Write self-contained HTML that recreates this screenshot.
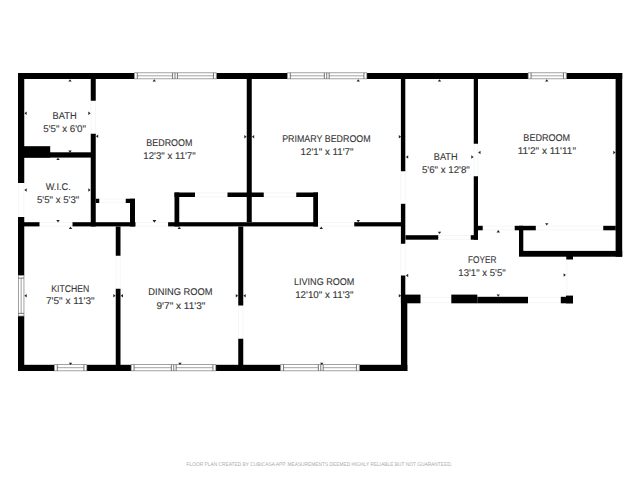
<!DOCTYPE html>
<html><head><meta charset="utf-8"><style>
html,body{margin:0;padding:0;background:#fff;}
svg{display:block;}
text{font-family:"Liberation Sans",sans-serif;text-rendering:geometricPrecision;}
</style></head><body>
<svg width="640" height="480" viewBox="0 0 640 480">
<rect x="0" y="0" width="640" height="480" fill="#fff"/>
<g stroke="#f2f2f2" stroke-width="0.7">
<line x1="18.4" y1="183" x2="18.4" y2="217"/>
<line x1="24.0" y1="183" x2="24.0" y2="217"/>
<line x1="91.0" y1="100.75" x2="91.0" y2="133.75"/>
<line x1="95.5" y1="100.75" x2="95.5" y2="133.75"/>
<line x1="39.5" y1="222.5" x2="72.5" y2="222.5"/>
<line x1="39.5" y1="226.1" x2="72.5" y2="226.1"/>
<line x1="135.5" y1="222.5" x2="168.1" y2="222.5"/>
<line x1="135.5" y1="226.1" x2="168.1" y2="226.1"/>
<line x1="99.25" y1="199.1" x2="125.75" y2="199.1"/>
<line x1="99.25" y1="202.7" x2="125.75" y2="202.7"/>
<line x1="195" y1="192.9" x2="227.5" y2="192.9"/>
<line x1="195" y1="196.7" x2="227.5" y2="196.7"/>
<line x1="263.75" y1="192.9" x2="296.25" y2="192.9"/>
<line x1="263.75" y1="196.7" x2="296.25" y2="196.7"/>
<line x1="318" y1="222.5" x2="354.25" y2="222.5"/>
<line x1="318" y1="226.1" x2="354.25" y2="226.1"/>
<line x1="116.1" y1="255.75" x2="116.1" y2="288.75"/>
<line x1="120.2" y1="255.75" x2="120.2" y2="288.75"/>
<line x1="238.6" y1="305.5" x2="238.6" y2="338.75"/>
<line x1="242.9" y1="305.5" x2="242.9" y2="338.75"/>
<line x1="400.9" y1="171.25" x2="400.9" y2="203.8"/>
<line x1="405.3" y1="171.25" x2="405.3" y2="203.8"/>
<line x1="400.9" y1="243.75" x2="400.9" y2="275.5"/>
<line x1="405.3" y1="243.75" x2="405.3" y2="275.5"/>
<line x1="438.25" y1="235.5" x2="470.75" y2="235.5"/>
<line x1="438.25" y1="239.4" x2="470.75" y2="239.4"/>
<line x1="474.1" y1="143.75" x2="474.1" y2="176.25"/>
<line x1="477.7" y1="143.75" x2="477.7" y2="176.25"/>
<line x1="482.5" y1="226.1" x2="514.5" y2="226.1"/>
<line x1="482.5" y1="229.7" x2="514.5" y2="229.7"/>
<line x1="535.5" y1="226.1" x2="603.25" y2="226.1"/>
<line x1="535.5" y1="229.7" x2="603.25" y2="229.7"/>
<line x1="420.5" y1="297.4" x2="451.25" y2="297.4"/>
<line x1="420.5" y1="302.6" x2="451.25" y2="302.6"/>
<line x1="528" y1="297.4" x2="560.75" y2="297.4"/>
<line x1="528" y1="302.6" x2="560.75" y2="302.6"/>
<line x1="566.75" y1="259.5" x2="566.75" y2="297"/>
</g>
<g fill="#000">
<rect x="18" y="73" width="116.50" height="6.00"/>
<rect x="216.25" y="73" width="71.25" height="6.00"/>
<rect x="366.75" y="73" width="161.50" height="6.00"/>
<rect x="566.25" y="73" width="55.95" height="6.00"/>
<rect x="18" y="73" width="6.25" height="110.00"/>
<rect x="18" y="217" width="6.25" height="58.50"/>
<rect x="18" y="316" width="6.25" height="55.00"/>
<rect x="615.6" y="73" width="6.60" height="183.70"/>
<rect x="18" y="364.8" width="36.50" height="6.20"/>
<rect x="86.75" y="364.8" width="44.50" height="6.20"/>
<rect x="215.75" y="364.8" width="65.00" height="6.20"/>
<rect x="359.25" y="364.8" width="48.05" height="6.20"/>
<rect x="90.75" y="79" width="5.00" height="21.75"/>
<rect x="90.75" y="133.75" width="5.00" height="92.75"/>
<rect x="24" y="152.3" width="67.00" height="5.30"/>
<rect x="24" y="146.2" width="26.20" height="11.40"/>
<rect x="18" y="222.2" width="21.50" height="4.20"/>
<rect x="72.5" y="222.2" width="63.00" height="4.20"/>
<rect x="168.1" y="222.2" width="149.90" height="4.20"/>
<rect x="95.75" y="198.75" width="3.50" height="4.25"/>
<rect x="125.75" y="198.75" width="9.25" height="4.25"/>
<rect x="130" y="198.75" width="5.00" height="27.75"/>
<rect x="115.75" y="226.5" width="4.75" height="29.25"/>
<rect x="115.75" y="288.75" width="4.75" height="76.25"/>
<rect x="246.75" y="79" width="5.00" height="143.20"/>
<rect x="174.5" y="192.5" width="20.50" height="4.50"/>
<rect x="227.5" y="192.5" width="36.25" height="4.50"/>
<rect x="296.25" y="192.5" width="21.75" height="4.50"/>
<rect x="174.5" y="192.5" width="4.75" height="34.00"/>
<rect x="313.25" y="192.5" width="4.75" height="34.00"/>
<rect x="238.25" y="226.5" width="5.00" height="79.00"/>
<rect x="238.25" y="338.75" width="5.00" height="26.25"/>
<rect x="354.25" y="222.2" width="47.00" height="4.20"/>
<rect x="400.9" y="79" width="4.40" height="92.25"/>
<rect x="400.9" y="203.8" width="4.40" height="39.95"/>
<rect x="400.9" y="275.5" width="4.40" height="19.50"/>
<rect x="400.95" y="295" width="6.35" height="76.00"/>
<rect x="405.5" y="235.2" width="32.75" height="4.50"/>
<rect x="470.75" y="235.2" width="7.25" height="4.50"/>
<rect x="473.75" y="79" width="4.25" height="64.75"/>
<rect x="473.75" y="176.25" width="4.25" height="63.45"/>
<rect x="478" y="225.8" width="4.70" height="4.50"/>
<rect x="514.7" y="225.8" width="21.10" height="4.50"/>
<rect x="603.25" y="225.8" width="12.50" height="4.50"/>
<rect x="519" y="225.8" width="4.30" height="29.95"/>
<rect x="519" y="250.9" width="103.20" height="5.80"/>
<rect x="566.25" y="255.75" width="6.75" height="3.75"/>
<rect x="400.9" y="294.6" width="19.60" height="8.70"/>
<rect x="451.3" y="294.6" width="26.00" height="8.70"/>
<rect x="477.3" y="296.8" width="50.70" height="6.50"/>
<rect x="560.8" y="296.8" width="12.20" height="6.50"/>
<rect x="566" y="295.6" width="7.00" height="7.70"/>
</g>
<g>
<rect x="134.5" y="72.8" width="81.75" height="6.00" fill="#fff" stroke="#8a8a8a" stroke-width="0.8"/>
<line x1="137.30" y1="75.80" x2="172.60" y2="75.80" stroke="#8a8a8a" stroke-width="0.8"/>
<line x1="177.40" y1="75.80" x2="213.45" y2="75.80" stroke="#8a8a8a" stroke-width="0.8"/>
<line x1="137.30" y1="72.8" x2="137.30" y2="78.8" stroke="#555" stroke-width="0.8"/>
<line x1="172.60" y1="72.8" x2="172.60" y2="78.8" stroke="#555" stroke-width="0.8"/>
<line x1="177.40" y1="72.8" x2="177.40" y2="78.8" stroke="#555" stroke-width="0.8"/>
<line x1="213.45" y1="72.8" x2="213.45" y2="78.8" stroke="#555" stroke-width="0.8"/>
<line x1="175.00" y1="72.8" x2="175.00" y2="78.8" stroke="#555" stroke-width="0.8"/>
<rect x="287.5" y="72.8" width="79.25" height="6.00" fill="#fff" stroke="#8a8a8a" stroke-width="0.8"/>
<line x1="290.30" y1="75.80" x2="324.35" y2="75.80" stroke="#8a8a8a" stroke-width="0.8"/>
<line x1="329.15" y1="75.80" x2="363.95" y2="75.80" stroke="#8a8a8a" stroke-width="0.8"/>
<line x1="290.30" y1="72.8" x2="290.30" y2="78.8" stroke="#555" stroke-width="0.8"/>
<line x1="324.35" y1="72.8" x2="324.35" y2="78.8" stroke="#555" stroke-width="0.8"/>
<line x1="329.15" y1="72.8" x2="329.15" y2="78.8" stroke="#555" stroke-width="0.8"/>
<line x1="363.95" y1="72.8" x2="363.95" y2="78.8" stroke="#555" stroke-width="0.8"/>
<line x1="326.75" y1="72.8" x2="326.75" y2="78.8" stroke="#555" stroke-width="0.8"/>
<rect x="528.25" y="72.8" width="38.00" height="6.00" fill="#fff" stroke="#8a8a8a" stroke-width="0.8"/>
<line x1="531.05" y1="75.80" x2="563.45" y2="75.80" stroke="#8a8a8a" stroke-width="0.8"/>
<line x1="531.05" y1="72.8" x2="531.05" y2="78.8" stroke="#555" stroke-width="0.8"/>
<line x1="563.45" y1="72.8" x2="563.45" y2="78.8" stroke="#555" stroke-width="0.8"/>
<rect x="54.5" y="364.6" width="32.25" height="6.20" fill="#fff" stroke="#8a8a8a" stroke-width="0.8"/>
<line x1="57.30" y1="367.70" x2="83.95" y2="367.70" stroke="#8a8a8a" stroke-width="0.8"/>
<line x1="57.30" y1="364.6" x2="57.30" y2="370.8" stroke="#555" stroke-width="0.8"/>
<line x1="83.95" y1="364.6" x2="83.95" y2="370.8" stroke="#555" stroke-width="0.8"/>
<rect x="131.25" y="364.6" width="84.50" height="6.20" fill="#fff" stroke="#8a8a8a" stroke-width="0.8"/>
<line x1="134.05" y1="367.70" x2="171.35" y2="367.70" stroke="#8a8a8a" stroke-width="0.8"/>
<line x1="176.15" y1="367.70" x2="212.95" y2="367.70" stroke="#8a8a8a" stroke-width="0.8"/>
<line x1="134.05" y1="364.6" x2="134.05" y2="370.8" stroke="#555" stroke-width="0.8"/>
<line x1="171.35" y1="364.6" x2="171.35" y2="370.8" stroke="#555" stroke-width="0.8"/>
<line x1="176.15" y1="364.6" x2="176.15" y2="370.8" stroke="#555" stroke-width="0.8"/>
<line x1="212.95" y1="364.6" x2="212.95" y2="370.8" stroke="#555" stroke-width="0.8"/>
<line x1="173.75" y1="364.6" x2="173.75" y2="370.8" stroke="#555" stroke-width="0.8"/>
<rect x="280.75" y="364.6" width="78.50" height="6.20" fill="#fff" stroke="#8a8a8a" stroke-width="0.8"/>
<line x1="283.55" y1="367.70" x2="318.35" y2="367.70" stroke="#8a8a8a" stroke-width="0.8"/>
<line x1="323.15" y1="367.70" x2="356.45" y2="367.70" stroke="#8a8a8a" stroke-width="0.8"/>
<line x1="283.55" y1="364.6" x2="283.55" y2="370.8" stroke="#555" stroke-width="0.8"/>
<line x1="318.35" y1="364.6" x2="318.35" y2="370.8" stroke="#555" stroke-width="0.8"/>
<line x1="323.15" y1="364.6" x2="323.15" y2="370.8" stroke="#555" stroke-width="0.8"/>
<line x1="356.45" y1="364.6" x2="356.45" y2="370.8" stroke="#555" stroke-width="0.8"/>
<line x1="320.75" y1="364.6" x2="320.75" y2="370.8" stroke="#555" stroke-width="0.8"/>
<rect x="18.4" y="275.5" width="5.55" height="40.50" fill="#fff" stroke="#8a8a8a" stroke-width="0.8"/>
<line x1="21.17" y1="278.10" x2="21.17" y2="313.40" stroke="#8a8a8a" stroke-width="0.8"/>
<line x1="18.4" y1="278.10" x2="23.95" y2="278.10" stroke="#555" stroke-width="0.8"/>
<line x1="18.4" y1="313.40" x2="23.95" y2="313.40" stroke="#555" stroke-width="0.8"/>
</g>
<g fill="#222">
<polygon points="70.00,79.20 68.30,81.50 71.70,81.50"/>
<polygon points="24.40,113.25 26.70,111.55 26.70,114.95"/>
<polygon points="90.60,113.25 88.30,111.55 88.30,114.95"/>
<polygon points="95.90,136.25 98.20,134.55 98.20,137.95"/>
<polygon points="70.00,152.90 68.30,150.60 71.70,150.60"/>
<polygon points="58.00,157.60 56.30,159.90 59.70,159.90"/>
<polygon points="24.40,190.00 26.70,188.30 26.70,191.70"/>
<polygon points="90.60,190.00 88.30,188.30 88.30,191.70"/>
<polygon points="58.00,222.40 56.30,220.10 59.70,220.10"/>
<polygon points="70.50,226.60 68.80,228.90 72.20,228.90"/>
<polygon points="154.50,222.40 152.80,220.10 156.20,220.10"/>
<polygon points="24.40,295.75 26.70,294.05 26.70,297.45"/>
<polygon points="115.60,295.75 113.30,294.05 113.30,297.45"/>
<polygon points="120.70,295.75 123.00,294.05 123.00,297.45"/>
<polygon points="70.50,365.00 68.80,362.70 72.20,362.70"/>
<polygon points="154.25,79.20 152.55,81.50 155.95,81.50"/>
<polygon points="154.25,222.40 152.55,220.10 155.95,220.10"/>
<polygon points="179.25,226.60 177.55,228.90 180.95,228.90"/>
<polygon points="180.00,365.00 178.30,362.70 181.70,362.70"/>
<polygon points="238.10,295.75 235.80,294.05 235.80,297.45"/>
<polygon points="243.40,295.75 245.70,294.05 245.70,297.45"/>
<polygon points="358.25,79.20 356.55,81.50 359.95,81.50"/>
<polygon points="246.60,136.75 244.30,135.05 244.30,138.45"/>
<polygon points="251.90,136.75 254.20,135.05 254.20,138.45"/>
<polygon points="321.25,226.60 319.55,228.90 322.95,228.90"/>
<polygon points="358.25,222.40 356.55,220.10 359.95,220.10"/>
<polygon points="321.75,365.00 320.05,362.70 323.45,362.70"/>
<polygon points="439.50,79.20 437.80,81.50 441.20,81.50"/>
<polygon points="401.10,136.75 398.80,135.05 398.80,138.45"/>
<polygon points="405.90,157.00 408.20,155.30 408.20,158.70"/>
<polygon points="473.60,157.00 471.30,155.30 471.30,158.70"/>
<polygon points="478.20,152.50 480.50,150.80 480.50,154.20"/>
<polygon points="439.50,234.10 437.80,231.80 441.20,231.80"/>
<polygon points="498.25,230.10 496.55,232.40 499.95,232.40"/>
<polygon points="405.90,275.50 408.20,273.80 408.20,277.20"/>
<polygon points="401.10,295.75 398.80,294.05 398.80,297.45"/>
<polygon points="498.25,296.80 496.55,294.50 499.95,294.50"/>
<polygon points="546.75,79.20 545.05,81.50 548.45,81.50"/>
<polygon points="615.60,152.50 613.30,150.80 613.30,154.20"/>
<polygon points="546.75,225.60 545.05,223.30 548.45,223.30"/>
<polygon points="565.90,275.00 563.60,273.30 563.60,276.70"/>
</g>
<g fill="#383838" stroke="#383838" stroke-width="0.12" font-size="9.8" text-anchor="middle">
<text x="64.62" y="118.55" textLength="24.05" lengthAdjust="spacingAndGlyphs">BATH</text>
<text x="64.60" y="131.85" textLength="42.80" lengthAdjust="spacingAndGlyphs">5'5&quot; x 6'0&quot;</text>
<text x="58.20" y="189.65" textLength="25.00" lengthAdjust="spacingAndGlyphs">W.I.C.</text>
<text x="58.10" y="202.65" textLength="42.40" lengthAdjust="spacingAndGlyphs">5'5&quot; x 5'3&quot;</text>
<text x="169.38" y="146.35" textLength="46.05" lengthAdjust="spacingAndGlyphs">BEDROOM</text>
<text x="169.53" y="159.15" textLength="52.35" lengthAdjust="spacingAndGlyphs">12'3&quot; x 11'7&quot;</text>
<text x="326.40" y="142.05" textLength="88.40" lengthAdjust="spacingAndGlyphs">PRIMARY BEDROOM</text>
<text x="327.00" y="154.85" textLength="52.80" lengthAdjust="spacingAndGlyphs">12'1&quot; x 11'7&quot;</text>
<text x="445.70" y="160.45" textLength="23.80" lengthAdjust="spacingAndGlyphs">BATH</text>
<text x="445.85" y="173.45" textLength="47.90" lengthAdjust="spacingAndGlyphs">5'6&quot; x 12'8&quot;</text>
<text x="546.75" y="140.90" textLength="46.80" lengthAdjust="spacingAndGlyphs">BEDROOM</text>
<text x="546.85" y="153.65" textLength="58.30" lengthAdjust="spacingAndGlyphs">11'2&quot; x 11'11&quot;</text>
<text x="70.30" y="292.05" textLength="38.00" lengthAdjust="spacingAndGlyphs">KITCHEN</text>
<text x="70.30" y="304.45" textLength="48.60" lengthAdjust="spacingAndGlyphs">7'5&quot; x 11'3&quot;</text>
<text x="180.50" y="295.40" textLength="64.30" lengthAdjust="spacingAndGlyphs">DINING ROOM</text>
<text x="180.95" y="308.65" textLength="48.90" lengthAdjust="spacingAndGlyphs">9'7&quot; x 11'3&quot;</text>
<text x="324.20" y="285.15" textLength="60.40" lengthAdjust="spacingAndGlyphs">LIVING ROOM</text>
<text x="324.35" y="298.25" textLength="58.30" lengthAdjust="spacingAndGlyphs">12'10&quot; x 11'3&quot;</text>
<text x="482.20" y="262.55" textLength="28.40" lengthAdjust="spacingAndGlyphs">FOYER</text>
<text x="482.00" y="275.55" textLength="47.30" lengthAdjust="spacingAndGlyphs">13'1&quot; x 5'5&quot;</text>
</g>
<text x="319.3" y="465.8" fill="#aaaaaa" font-size="5.4" text-anchor="middle" textLength="265.5" lengthAdjust="spacingAndGlyphs">FLOOR PLAN CREATED BY CUBICASA APP. MEASUREMENTS DEEMED HIGHLY RELIABLE BUT NOT GUARANTEED.</text>
</svg>
</body></html>
